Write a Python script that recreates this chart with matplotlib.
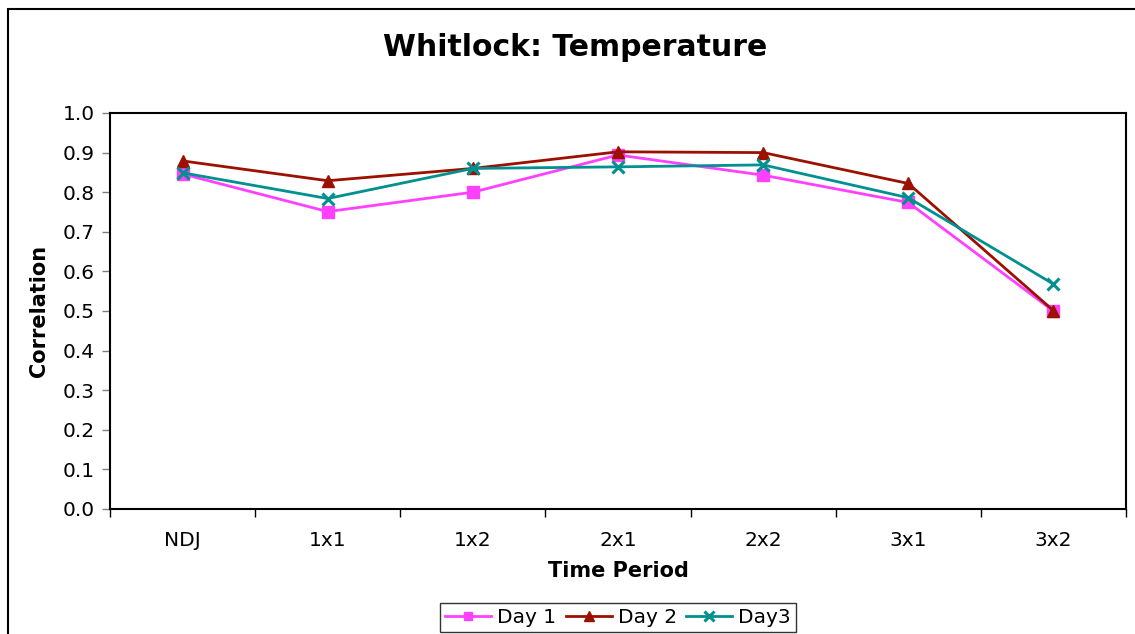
import matplotlib
matplotlib.use("Agg")
import matplotlib.pyplot as plt
from matplotlib.patches import Rectangle

# Chart data
periods = ["NDJ", "1x1", "1x2", "2x1", "2x2", "3x1", "3x2"]
day1 = [0.846, 0.751, 0.800, 0.894, 0.843, 0.774, 0.500]
day2 = [0.879, 0.829, 0.860, 0.902, 0.900, 0.822, 0.501]
day3 = [0.849, 0.784, 0.860, 0.864, 0.869, 0.786, 0.568]
y_ticks = [0.0, 0.1, 0.2, 0.3, 0.4, 0.5, 0.6, 0.7, 0.8, 0.9, 1.0]

W, H = 1135, 634
fig = plt.figure(figsize=(W / 100, H / 100), dpi=100)
plt.rcParams["font.family"] = ["DejaVu Sans"]

# outer chart frame (left and top visible, rest runs off the image)
fig.patches.append(Rectangle((8 / W, -0.1), 1.2, (H - 9) / H + 0.1,
                             transform=fig.transFigure, fill=False,
                             edgecolor="black", linewidth=1.5))

ax = fig.add_axes([110 / W, 1 - 509 / H, (1126 - 110) / W, (509 - 113) / H])

x = list(range(len(periods)))
ax.plot(x, day1, color="#FF40FF", marker="s", markersize=8, linewidth=2, label="Day 1")
ax.plot(x, day2, color="#9C1000", marker="^", markersize=9, linewidth=2, label="Day 2")
ax.plot(x, day3, color="#009090", marker="x", markersize=9, markeredgewidth=2.2,
        linewidth=2, label="Day3")

ax.set_xlim(-0.5, len(periods) - 0.5)
ax.set_ylim(0, 1.0)
ax.set_yticks(y_ticks)
ax.set_yticklabels([f"{v:.1f}" for v in y_ticks])
ax.set_xticks(x)
ax.set_xticklabels(periods)
ax.tick_params(axis="x", length=0, labelsize=14.5, pad=16)
ax.set_xticks([i - 0.5 for i in range(len(periods) + 1)], minor=True)
ax.tick_params(axis="x", which="minor", length=6, width=1, color="black", direction="out")
ax.tick_params(axis="y", length=6, width=1, color="#808080", labelsize=14.5, pad=5)

for s in ax.spines.values():
    s.set_linewidth(1.5)
    s.set_color("black")

ax.set_xlabel("Time Period", fontsize=15, fontweight="bold", labelpad=8)
ax.set_ylabel("Correlation", fontsize=15, fontweight="bold", labelpad=10)
fig.text(575 / W, 1 - 48 / H, "Whitlock: Temperature", fontsize=21.5, fontweight="bold",
         ha="center", va="center")

leg = fig.legend(loc="lower center", bbox_to_anchor=(618 / W, -8 / H), ncol=3,
                 fontsize=14.5, frameon=True, fancybox=False, edgecolor="black",
                 handlelength=2.3, handletextpad=0.3, columnspacing=0.45,
                 borderpad=0.25, markerscale=0.8)
leg.get_frame().set_linewidth(1)

fig.savefig("out.png", dpi=100)
